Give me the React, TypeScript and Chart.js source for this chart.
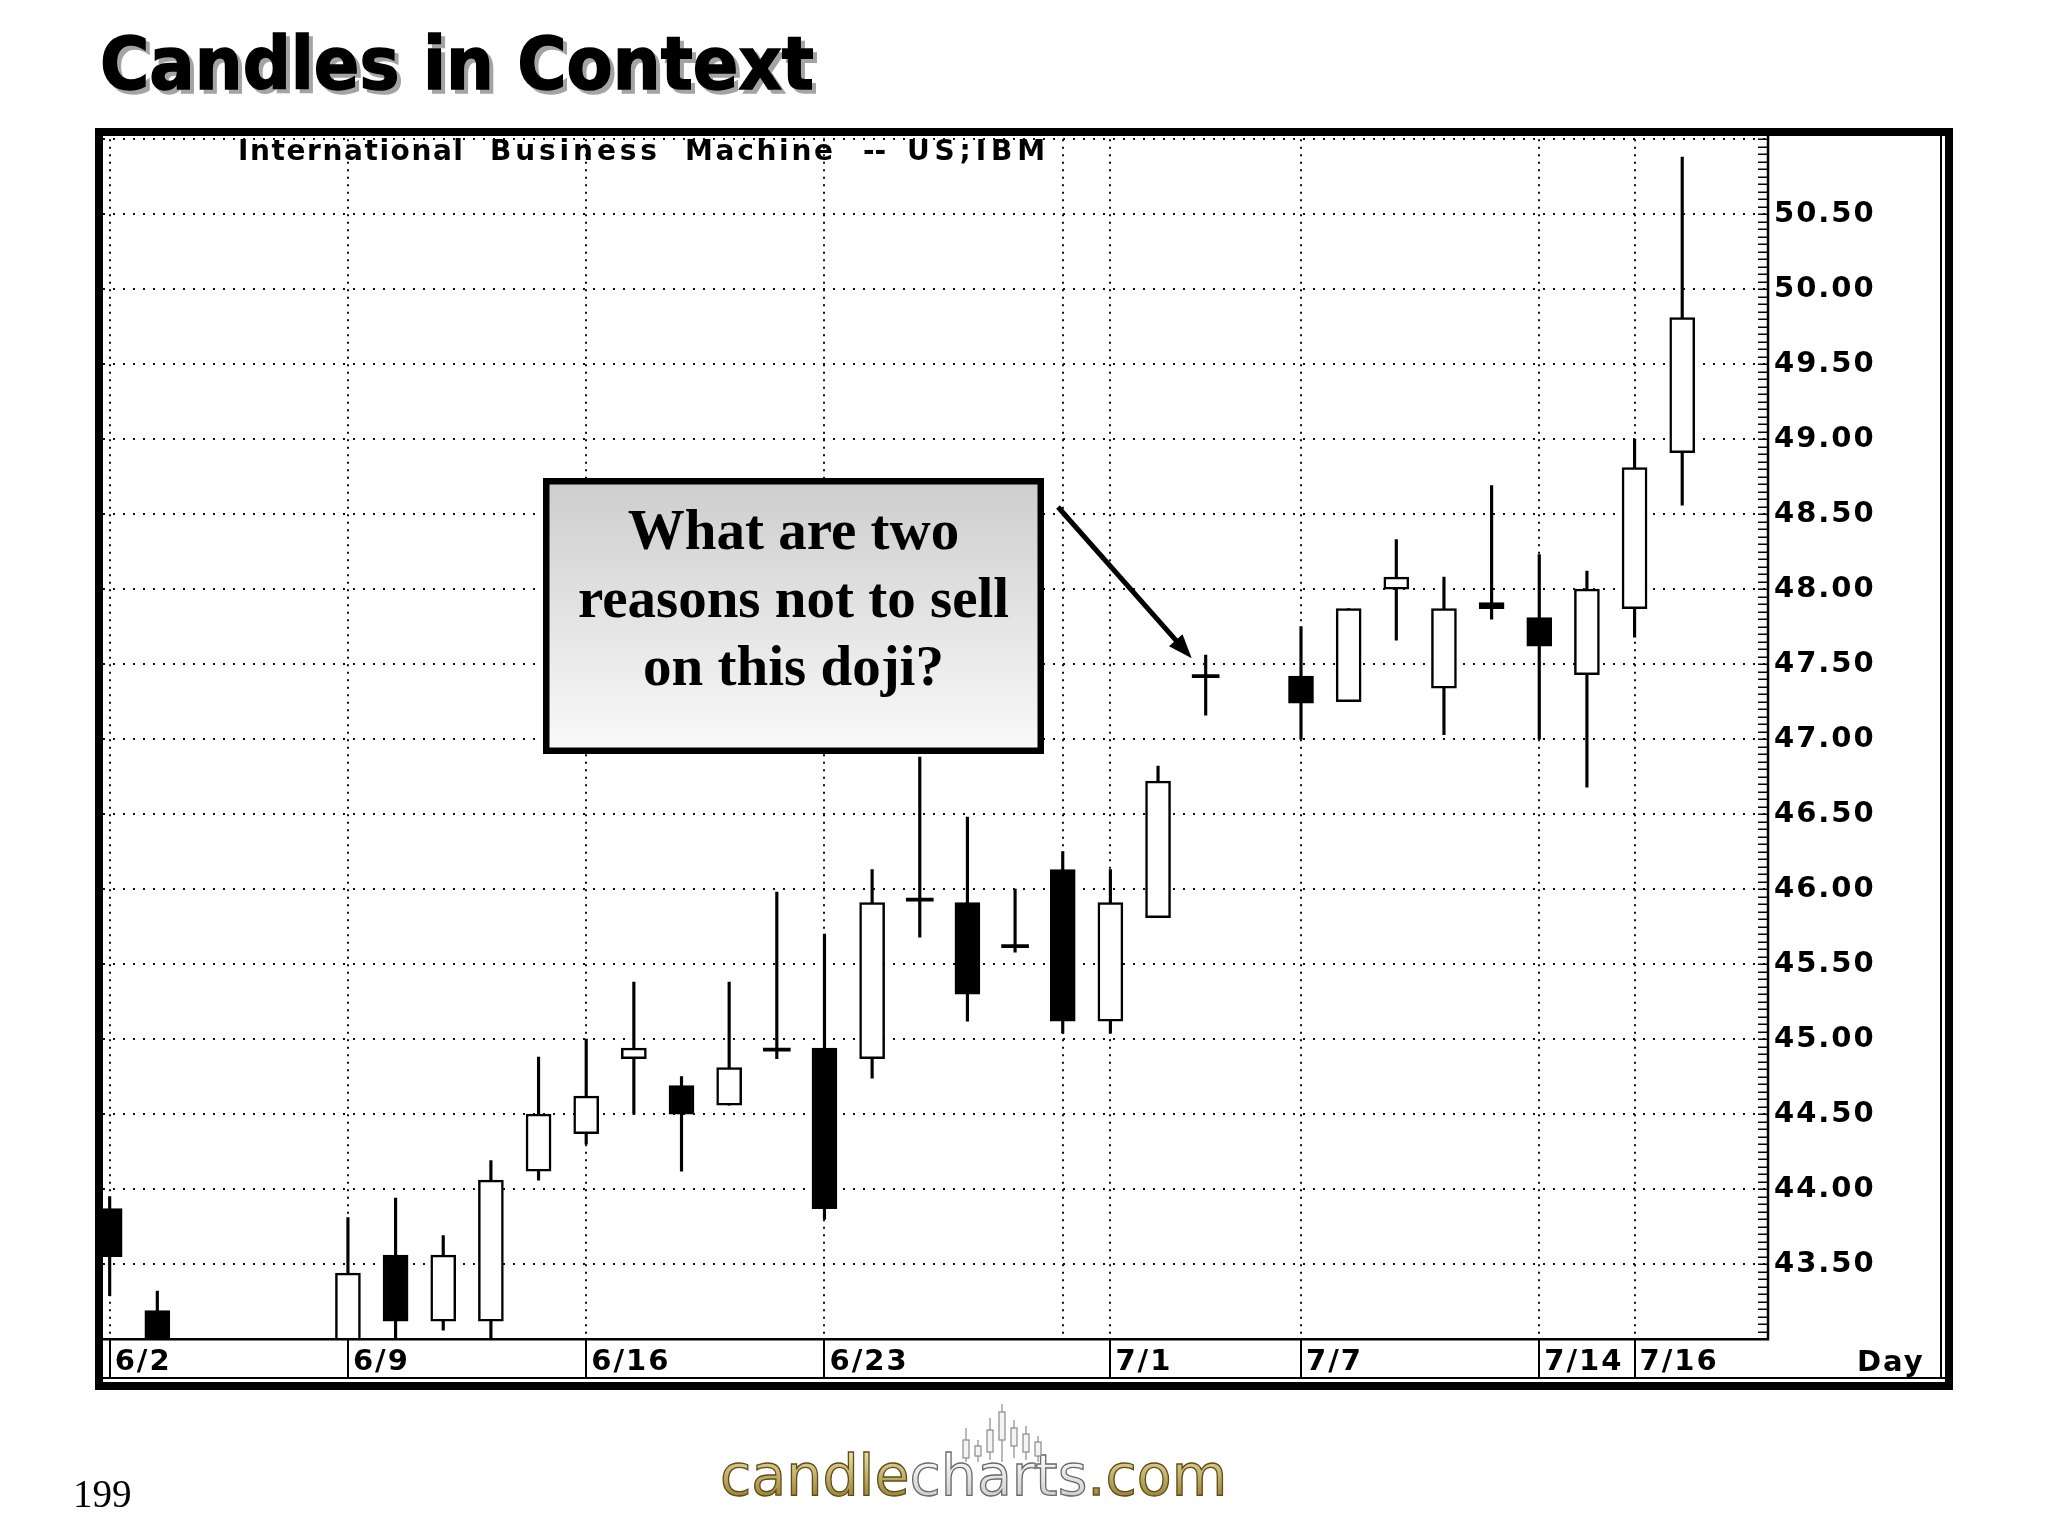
import React, { useEffect, useRef } from "react";
import { Chart, registerables } from "chart.js";

Chart.register(...registerables);

// ---------- data ----------
const DATES = [
  "6/2", "6/3", "6/4", "6/5", "6/6", "6/9", "6/10", "6/11", "6/12", "6/13",
  "6/16", "6/17", "6/18", "6/19", "6/20", "6/23", "6/24", "6/25", "6/26", "6/27",
  "6/30", "7/1", "7/2", "7/3", "7/4", "7/7", "7/8", "7/9", "7/10", "7/11",
  "7/14", "7/15", "7/16", "7/17",
];
const OPEN = [
  43.87, 43.19, null, null, null, 42.9, 43.56, 43.12, 43.12, 44.12,
  44.37, 44.87, 44.69, 44.56, 44.93, 44.94, 44.87, 45.93, 45.91, 45.62,
  46.13, 45.12, 45.81, 47.42, null, 47.42, 47.25, 48.0, 47.34, 47.91,
  47.81, 47.43, 47.87, 48.91,
];
const HIGH = [
  43.95, 43.32, null, null, null, 43.81, 43.94, 43.69, 44.19, 44.88,
  45.0, 45.38, 44.75, 45.38, 45.98, 45.7, 46.13, 46.88, 46.48, 46.0,
  46.25, 46.13, 46.82, 47.56, null, 47.75, 47.87, 48.33, 48.08, 48.69,
  48.23, 48.12, 49.0, 50.88,
];
const LOW = [
  43.29, 42.8, null, null, null, 42.8, 42.95, 43.06, 42.95, 44.06,
  44.3, 44.5, 44.12, 44.56, 44.87, 43.8, 44.74, 45.68, 45.12, 45.58,
  45.04, 45.04, 45.81, 47.16, null, 47.0, 47.25, 47.66, 47.03, 47.8,
  47.0, 46.68, 47.68, 48.56,
];
const CLOSE = [
  43.55, 42.9, null, null, null, 43.44, 43.12, 43.56, 44.06, 44.5,
  44.62, 44.94, 44.5, 44.81, 44.93, 43.87, 45.91, 45.93, 45.3, 45.62,
  45.12, 45.91, 46.72, 47.42, null, 47.24, 47.87, 48.08, 47.87, 47.87,
  47.62, 48.0, 48.81, 49.81,
];
const X_TICK_INDEX = [0, 5, 10, 15, 20, 21, 25, 30, 32];
const X_TICK_LABELS = ["6/2", "6/9", "6/16", "6/23", "", "7/1", "7/7", "7/14", "7/16"];
const Y_MIN = 43;
const Y_MAX = 51;
const Y_STEP = 0.5;
const Y_MINOR_STEP = 0.05;
const TITLE = "Candles in Context";
const SUBTITLE_WORDS = ["International", "Business", "Machine", "--", "US;IBM"];
const CALLOUT_LINES = ["What are two", "reasons not to sell", "on this doji?"];
const CALLOUT_INDEX = 23;
const X_AXIS_NAME = "Day";
const PAGE_NUMBER = "199";
const LOGO_PARTS = ["candle", "charts", ".com"];

// ---------- derived chart tables ----------
const isDoji = (i: number) => Math.abs((CLOSE[i] as number) - (OPEN[i] as number)) < 0.005;
const valid = DATES.map((_, i) => i).filter((i) => OPEN[i] != null);
const wickData = valid.map((i) => ({ x: i, y: [LOW[i], HIGH[i]] }));
const bodyIdx = valid.filter((i) => !isDoji(i));
const bodyData = bodyIdx.map((i) => ({ x: i, y: [OPEN[i], CLOSE[i]] }));
const bodyColors = bodyIdx.map((i) => ((CLOSE[i] as number) > (OPEN[i] as number) ? "#ffffff" : "#000000"));
const dojiData = valid.filter(isDoji).map((i) => ({ x: i, y: [(CLOSE[i] as number) - 0.01, (CLOSE[i] as number) + 0.01] }));

const LABEL_FONT = { family: "'DejaVu Sans', sans-serif", size: 29, weight: "bold" as const };

const decor = {
  id: "decor",
  beforeDraw(chart: any) {
    const ctx = chart.ctx;
    ctx.save();
    ctx.fillStyle = "#ffffff";
    ctx.fillRect(0, 0, chart.width, chart.height);
    ctx.restore();
    ctx.letterSpacing = "2px";
  },
  afterDraw(chart: any) {
    const { ctx, chartArea: a, scales } = chart;
    const xs = scales.x;
    const ys = scales.y;
    ctx.save();
    ctx.letterSpacing = "0px";
    ctx.strokeStyle = "#000";
    ctx.fillStyle = "#000";

    // minor ticks on the right axis (inside the plot)
    ctx.lineWidth = 1.5;
    const n = Math.round((Y_MAX - Y_MIN) / Y_MINOR_STEP);
    for (let k = 0; k <= n; k++) {
      const py = Math.round(ys.getPixelForValue(Y_MIN + k * Y_MINOR_STEP)) + 0.25;
      ctx.beginPath();
      ctx.moveTo(a.right - 10, py);
      ctx.lineTo(a.right, py);
      ctx.stroke();
    }

    // axis lines
    ctx.lineWidth = 2.5;
    ctx.beginPath();
    ctx.moveTo(a.right, a.top - 4);
    ctx.lineTo(a.right, a.bottom);
    ctx.lineTo(a.left, a.bottom);
    ctx.stroke();

    const stripBottom = 1378;
    // label separators
    ctx.lineWidth = 2;
    X_TICK_INDEX.forEach((v, i) => {
      if (!X_TICK_LABELS[i]) return;
      const px = Math.round(xs.getPixelForValue(v));
      ctx.beginPath();
      ctx.moveTo(px, a.bottom);
      ctx.lineTo(px, stripBottom);
      ctx.stroke();
    });
    ctx.beginPath();
    ctx.moveTo(a.left, stripBottom);
    ctx.lineTo(1945, stripBottom);
    ctx.moveTo(1941, 136);
    ctx.lineTo(1941, stripBottom);
    ctx.stroke();

    // outer frame
    ctx.lineWidth = 8;
    ctx.strokeRect(99, 132, 1850, 1254);

    // axis name
    ctx.letterSpacing = "2px";
    ctx.font = "bold 29px 'DejaVu Sans'";
    ctx.textBaseline = "alphabetic";
    ctx.textAlign = "left";
    ctx.fillText(X_AXIS_NAME, 1857, 1371);

    // subtitle inside the plot, each word fitted to its span
    ctx.font = "bold 28px 'DejaVu Sans'";
    const wordSpan = [[238, 463], [490, 657], [685, 833], [863, 885], [907, 1045]];
    SUBTITLE_WORDS.forEach((w, i) => {
      ctx.letterSpacing = "0px";
      const w0 = ctx.measureText(w).width;
      const target = wordSpan[i][1] - wordSpan[i][0];
      const ls = Math.max(0, (target - w0) / Math.max(1, w.length - 1));
      ctx.letterSpacing = ls.toFixed(2) + "px";
      ctx.fillText(w, wordSpan[i][0], 160);
    });
    ctx.letterSpacing = "0px";

    // callout box
    const bx = 543, by = 478, bw = 501, bh = 276;
    const g = ctx.createLinearGradient(0, by, 0, by + bh);
    g.addColorStop(0, "#cdcdcd");
    g.addColorStop(1, "#fafafa");
    ctx.fillStyle = g;
    ctx.fillRect(bx, by, bw, bh);
    ctx.lineWidth = 6.5;
    ctx.strokeStyle = "#000";
    ctx.strokeRect(bx + 3.25, by + 3.25, bw - 6.5, bh - 6.5);
    ctx.fillStyle = "#000";
    ctx.font = "bold 57px 'Liberation Serif'";
    ctx.textAlign = "center";
    const base = [549, 617, 685];
    CALLOUT_LINES.forEach((t, i) => ctx.fillText(t, bx + bw / 2, base[i]));

    // arrow to the doji
    const tipX = xs.getPixelForValue(CALLOUT_INDEX) - 14;
    const tipY = ys.getPixelForValue(HIGH[CALLOUT_INDEX]) + 3;
    const tailX = 1058, tailY = 507;
    const ang = Math.atan2(tipY - tailY, tipX - tailX);
    const L = 24, W = 9;
    const cx = Math.cos(ang), sx = Math.sin(ang);
    ctx.lineWidth = 5;
    ctx.beginPath();
    ctx.moveTo(tailX, tailY);
    ctx.lineTo(tipX - (L - 2) * cx, tipY - (L - 2) * sx);
    ctx.stroke();
    ctx.beginPath();
    ctx.moveTo(tipX, tipY);
    ctx.lineTo(tipX - L * cx - W * sx, tipY - L * sx + W * cx);
    ctx.lineTo(tipX - L * cx + W * sx, tipY - L * sx - W * cx);
    ctx.closePath();
    ctx.fill();

    // page title with shadow, horizontally fitted to its span
    ctx.textAlign = "left";
    ctx.font = "bold 73px 'DejaVu Sans'";
    const tw = ctx.measureText(TITLE).width;
    const sc = 714 / tw;
    const drawTitle = (x0: number, y0: number, col: string) => {
      ctx.save();
      ctx.translate(x0, y0);
      ctx.scale(sc, 1);
      ctx.fillStyle = col;
      ctx.strokeStyle = col;
      ctx.lineWidth = 1.5;
      ctx.fillText(TITLE, 0, 0);
      ctx.strokeText(TITLE, 0, 0);
      ctx.restore();
    };
    drawTitle(104, 93, "#a4a4a4");
    drawTitle(100, 89, "#000");

    // page number
    ctx.fillStyle = "#000";
    ctx.font = "39px 'Liberation Serif'";
    ctx.fillText(PAGE_NUMBER, 73, 1507);

    // logo
    ctx.font = "57px 'DejaVu Sans'";
    let lx = 720;
    const lb = 1495;
    const gold = ctx.createLinearGradient(0, 1452, 0, 1497);
    gold.addColorStop(0, "#ece0a6");
    gold.addColorStop(1, "#9c8436");
    const silver = ctx.createLinearGradient(0, 1452, 0, 1497);
    silver.addColorStop(0, "#ffffff");
    silver.addColorStop(1, "#cfcfcf");
    const fills = [gold, silver, gold];
    const strokes = ["#5e4d18", "#6a6a6a", "#5e4d18"];
    LOGO_PARTS.forEach((t, i) => {
      ctx.fillStyle = fills[i];
      ctx.fillText(t, lx, lb);
      ctx.lineWidth = 1.3;
      ctx.strokeStyle = strokes[i];
      ctx.strokeText(t, lx, lb);
      lx += ctx.measureText(t).width;
    });
    // little candle emblem above "charts"
    ctx.strokeStyle = "#8a8a8a";
    ctx.fillStyle = "#f4f4f4";
    ctx.lineWidth = 1.2;
    const ex = 966;
    const hts = [[1428, 1440, 1458, 1462], [1440, 1446, 1456, 1462], [1418, 1430, 1452, 1460], [1404, 1412, 1440, 1462], [1420, 1428, 1446, 1458], [1426, 1434, 1452, 1460], [1436, 1442, 1456, 1462]];
    hts.forEach((h, i) => {
      const px = ex + i * 12;
      ctx.beginPath();
      ctx.moveTo(px, h[0]);
      ctx.lineTo(px, h[3]);
      ctx.stroke();
      ctx.fillRect(px - 3, h[1], 6, h[2] - h[1]);
      ctx.strokeRect(px - 3, h[1], 6, h[2] - h[1]);
    });
    ctx.restore();
  },
};

export default function App() {
  const ref = useRef<HTMLCanvasElement>(null);
  useEffect(() => {
    const canvas = ref.current;
    if (!canvas) return;
    const chart = new Chart(canvas, {
      type: "bar",
      data: {
        datasets: [
          {
            label: "body",
            data: bodyData as any,
            backgroundColor: bodyColors,
            borderColor: "#000",
            borderWidth: 2.5,
            borderSkipped: false,
            barThickness: 25,
            grouped: false,
            clip: 0,
            order: 0,
          } as any,
          {
            label: "doji",
            data: dojiData as any,
            backgroundColor: "#000",
            borderWidth: 0,
            barThickness: 27,
            grouped: false,
            clip: 0,
            order: 1,
          } as any,
          {
            label: "wick",
            data: wickData as any,
            backgroundColor: "#000",
            borderWidth: 0,
            barThickness: 2.5,
            grouped: false,
            clip: 0,
            order: 2,
          } as any,
        ],
      },
      options: {
        animation: false,
        responsive: false,
        devicePixelRatio: 1,
        layout: { padding: { left: 103, top: 139.2, right: 130, bottom: 156.8 } },
        plugins: { legend: { display: false }, tooltip: { enabled: false }, title: { display: false } },
        scales: {
          x: {
            type: "linear",
            min: -0.14,
            max: 34.8,
            offset: false,
            grid: { offset: false, color: "#111", lineWidth: 2, drawTicks: false },
            border: { display: false, dash: [2, 5.5] },
            ticks: {
              align: "start",
              labelOffset: 5,
              padding: 6,
              autoSkip: false,
              maxRotation: 0,
              color: "#000",
              font: LABEL_FONT,
              callback: (v: any) => {
                const k = X_TICK_INDEX.indexOf(Number(v));
                return k >= 0 ? X_TICK_LABELS[k] : "";
              },
            },
            afterBuildTicks: (s: any) => {
              s.ticks = X_TICK_INDEX.map((v) => ({ value: v }));
            },
            afterFit: (s: any) => {
              s.height = 40;
              s.paddingLeft = 0;
              s.paddingRight = 0;
            },
          },
          y: {
            type: "linear",
            position: "right",
            min: Y_MIN,
            max: Y_MAX,
            grid: { color: "#111", lineWidth: 2, drawTicks: false },
            border: { display: false, dash: [2, 8] },
            ticks: {
              stepSize: Y_STEP,
              padding: 6,
              color: "#000",
              font: LABEL_FONT,
              callback: (v: any) => {
                const n = Number(v);
                return n <= Y_MIN + 1e-6 || n >= Y_MAX - 1e-6 ? "" : n.toFixed(2);
              },
            },
            afterFit: (s: any) => {
              s.width = 150;
              s.paddingTop = 0;
              s.paddingBottom = 0;
            },
          },
        },
      } as any,
      plugins: [decor],
    });
    return () => chart.destroy();
  }, []);
  return (
    <div style={{ position: "absolute", left: 0, top: 0, width: 2048, height: 1536, background: "#fff", overflow: "hidden" }}>
      <canvas ref={ref} width={2048} height={1536} style={{ width: 2048, height: 1536, display: "block" }} />
    </div>
  );
}
